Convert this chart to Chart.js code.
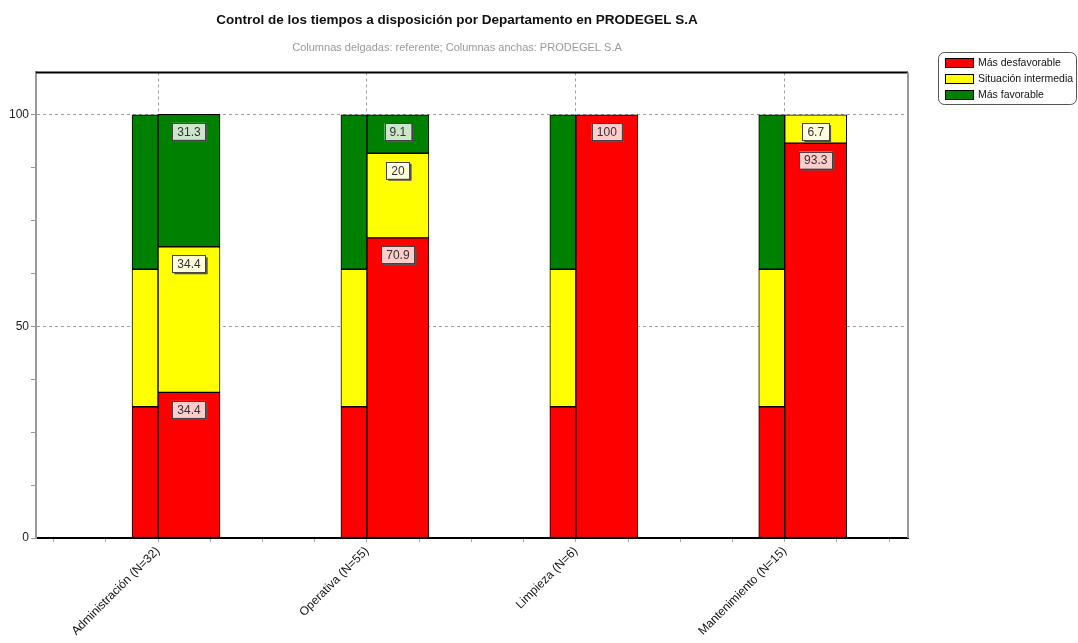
<!DOCTYPE html>
<html>
<head>
<meta charset="utf-8">
<script src="https://cdn.jsdelivr.net/npm/chart.js@4"></script>
<style>
  html, body { margin: 0; padding: 0; background: #fff; }
  #wrap { width: 1078px; height: 643px; }
</style>
</head>
<body>
<div id="wrap"><canvas id="c" width="1078" height="643"></canvas></div>
<script>
// ---- Data ----
const categories = ["Administración (N=32)", "Operativa (N=55)", "Limpieza (N=6)", "Mantenimiento (N=15)"];
const seriesNames = ["Más desfavorable", "Situación intermedia", "Más favorable"];
// Thin columns: referente
const refDesfavorable = [31, 31, 31, 31];
const refIntermedia   = [32.5, 32.5, 32.5, 32.5];
const refFavorable    = [36.5, 36.5, 36.5, 36.5];
// Wide columns: PRODEGEL S.A
const prodDesfavorable = [34.4, 70.9, 100, 93.3];
const prodIntermedia   = [34.4, 20, 0, 6.7];
const prodFavorable    = [31.3, 9.1, 0, 0];
const yTickLabels = [0, 50, 100];

const titleText = "Control de los tiempos a disposición por Departamento en PRODEGEL S.A";
const subtitleText = "Columnas delgadas: referente; Columnas anchas: PRODEGEL S.A";

// ---- Styles ----
const fills = ["#ff0000", "#ffff00", "#008000"];
const labelFills = ["#ffcccc", "#ffffdd", "#cce6cc"];
const FONT = "'Liberation Sans', Arial, sans-serif";

const toPts = arr => arr.map((v, i) => ({ x: i + 1, y: v }));

function ds(label, data, idx, stack, thickness) {
  return {
    label, data: toPts(data), stack,
    backgroundColor: fills[idx], borderColor: "#000", borderWidth: 1,
    borderSkipped: false, barThickness: thickness, _sIdx: idx
  };
}

const datasets = [
  ds(seriesNames[0], refDesfavorable, 0, "ref", 26),
  ds(seriesNames[1], refIntermedia, 1, "ref", 26),
  ds(seriesNames[2], refFavorable, 2, "ref", 26),
  ds(seriesNames[0], prodDesfavorable, 0, "prod", 62),
  ds(seriesNames[1], prodIntermedia, 1, "prod", 62),
  ds(seriesNames[2], prodFavorable, 2, "prod", 62)
];

const isInt = v => Math.abs(v - Math.round(v)) < 1e-6;

const framePlugin = {
  id: "frame",
  afterDatasetsDraw(chart) {
    const { ctx, chartArea: a } = chart;
    ctx.save();
    ctx.strokeStyle = "#000"; ctx.lineWidth = 2;
    ctx.beginPath(); ctx.moveTo(a.left, a.top); ctx.lineTo(a.right, a.top); ctx.stroke();
    ctx.strokeStyle = "#999"; ctx.lineWidth = 2;
    ctx.beginPath(); ctx.moveTo(a.right, a.top); ctx.lineTo(a.right, a.bottom); ctx.stroke();
    ctx.restore();
  }
};

const valueLabelPlugin = {
  id: "valueLabels",
  afterDatasetsDraw(chart) {
    const ctx = chart.ctx;
    ctx.save();
    ctx.font = "12px " + FONT;
    ctx.textAlign = "center";
    ctx.textBaseline = "middle";
    chart.data.datasets.forEach((d, di) => {
      if (d.stack !== "prod") return;
      const meta = chart.getDatasetMeta(di);
      meta.data.forEach((el, i) => {
        const v = d.data[i].y;
        if (!v) return;
        const txt = String(v);
        const w = ctx.measureText(txt).width + 10;
        const h = 17;
        const cx = el.x, cy = el.y + 17;
        ctx.fillStyle = "#555";
        ctx.fillRect(cx - w / 2 + 2, cy - h / 2 + 2, w, h);
        ctx.fillStyle = labelFills[d._sIdx];
        ctx.fillRect(cx - w / 2, cy - h / 2, w, h);
        ctx.strokeStyle = "#444"; ctx.lineWidth = 1;
        ctx.strokeRect(Math.round(cx - w / 2) + 0.5, Math.round(cy - h / 2) + 0.5, Math.round(w), h);
        ctx.fillStyle = "#333";
        ctx.fillText(txt, cx, cy + 1);
      });
    });
    ctx.restore();
  }
};

const legendPlugin = {
  id: "customLegend",
  afterDraw(chart) {
    const ctx = chart.ctx;
    const x0 = 938, y0 = 52, w = 138, h = 52, r = 6;
    ctx.save();
    ctx.fillStyle = "#fff";
    ctx.strokeStyle = "#555"; ctx.lineWidth = 1;
    ctx.beginPath();
    ctx.roundRect(x0 + 0.5, y0 + 0.5, w, h, r);
    ctx.fill(); ctx.stroke();
    ctx.font = "10.5px " + FONT;
    ctx.textBaseline = "middle"; ctx.textAlign = "left";
    seriesNames.forEach((name, i) => {
      const cy = y0 + 11 + i * 16;
      ctx.fillStyle = fills[i];
      ctx.fillRect(945, cy - 5, 29, 10);
      ctx.strokeStyle = "#000";
      ctx.strokeRect(945.5, cy - 4.5, 28, 9);
      ctx.fillStyle = "#111";
      ctx.fillText(name, 978, cy);
    });
    ctx.restore();
  }
};

new Chart(document.getElementById("c"), {
  type: "bar",
  data: { datasets },
  plugins: [framePlugin, valueLabelPlugin, legendPlugin],
  options: {
    responsive: false,
    animation: false,
    layout: { padding: { left: 6, right: 170, top: 0, bottom: 0 } },
    plugins: {
      legend: { display: false },
      tooltip: { enabled: false },
      title: {
        display: true, text: titleText, color: "#111",
        font: { family: FONT, size: 13.5, weight: "bold" },
        padding: { top: 12, bottom: 13 }
      },
      subtitle: {
        display: true, text: subtitleText, color: "#9a9a9a",
        font: { family: FONT, size: 11 },
        padding: { top: 0, bottom: 18 }
      }
    },
    scales: {
      x: {
        type: "linear", min: 0.416, max: 4.59, offset: false,
        afterFit: s => { s.height = 105; },
        grid: {
          offset: false, drawTicks: true, tickLength: 4,
          color: c => (c.tick && isInt(c.tick.value)) ? "#a0a0a0" : "rgba(0,0,0,0)",
          tickColor: "#aaa", lineWidth: 1
        },
        border: { display: true, color: "#000", width: 2, dash: [3, 3] },
        ticks: {
          stepSize: 0.25, includeBounds: false, autoSkip: false,
          maxRotation: 45, minRotation: 45, padding: 2,
          color: "#111", font: { family: FONT, size: 12 },
          callback: v => (isInt(v) && v >= 1 && v <= categories.length) ? categories[Math.round(v) - 1] : ""
        }
      },
      y: {
        stacked: true, min: 0, max: 110,
        afterFit: s => { s.width = 30; },
        grid: {
          drawTicks: true, tickLength: 5,
          color: c => (c.tick && c.tick.value > 0 && yTickLabels.includes(c.tick.value)) ? "#a0a0a0" : "rgba(0,0,0,0)",
          tickColor: "#999", lineWidth: 1
        },
        border: { display: true, color: "#999", width: 2, dash: [3, 3] },
        ticks: {
          stepSize: 12.5, includeBounds: false, padding: 2,
          color: "#222", font: { family: FONT, size: 12 },
          callback: v => yTickLabels.includes(v) ? String(v) : ""
        }
      }
    }
  }
});
</script>
</body>
</html>
